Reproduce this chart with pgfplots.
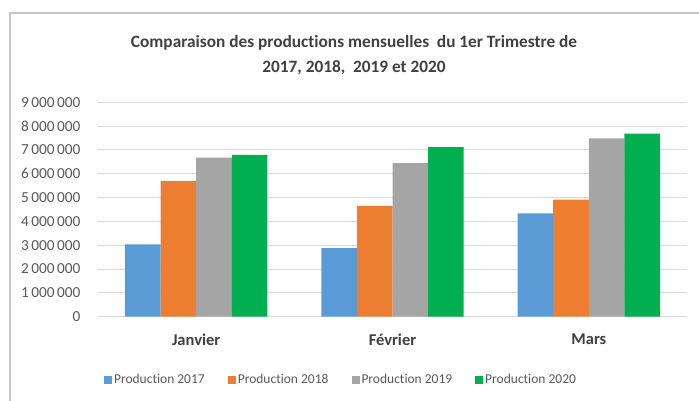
\documentclass[border=0pt]{standalone}
\usepackage{fontspec}
\setmainfont{Carlito}[Ligatures=NoCommon]
\usepackage{pgfplots}
\pgfplotsset{compat=1.18}

\definecolor{c2017}{HTML}{5B9BD5}
\definecolor{c2018}{HTML}{ED7D31}
\definecolor{c2019}{HTML}{A5A5A5}
\definecolor{c2020}{HTML}{00B050}
\definecolor{gridc}{HTML}{D9D9D9}
\definecolor{txt}{HTML}{595959}
\definecolor{ttl}{HTML}{404040}

\begin{document}
\begin{tikzpicture}[x=1pt,y=1pt]
\useasboundingbox (0,0) rectangle (699,401);
% cadre du graphique (coupé à droite et en bas)
\draw[color=gridc!80!gray, line width=1.6pt] (10,0) -- (10,388) -- (699,388);

\node[font=\bfseries\fontsize{17.3}{25}\selectfont, text=ttl, align=center]
  at (354,345.5) {Comparaison des productions mensuelles\ \ du 1er Trimestre de\\2017, 2018,\ \ 2019 et 2020};

\begin{axis}[
    at={(98pt,84.3pt)}, anchor=south west,
    scale only axis,
    width=589pt, height=214.4pt,
    ybar=0pt,
    bar width=35.6pt,
    xmin=-0.5, xmax=2.5,
    ymin=0, ymax=9000000,
    xtick=data,
    xticklabels={Janvier, Février, Mars},
    ytick={0,1000000,...,9000000},
    scaled y ticks=false,
    /pgf/number format/fixed,
    /pgf/number format/1000 sep={\,},
    /pgf/number format/assume math mode=true,
    yticklabel style={font=\fontsize{15.3}{17}\selectfont, text=txt, xshift=-14pt},
    xticklabel style={font=\bfseries\fontsize{16.5}{18}\selectfont, text=ttl, yshift=-14pt},
    major tick length=0pt,
    axis line style={draw=none},
    ymajorgrids,
    grid style={gridc, line width=0.9pt},
    legend style={
      at={(0.4126,-0.295)}, anchor=center,
      draw=none, fill=none,
      legend columns=4,
      font=\fontsize{13.5}{15}\selectfont, text=txt,
      /tikz/every even column/.append style={column sep=21pt},
    },
    legend image code/.code={\fill[#1] (0pt,-4pt) rectangle (8pt,4pt);},
  ]
  \addplot[fill=c2017, draw=none] coordinates {(0,3040000) (1,2880000) (2,4340000)};
  \addplot[fill=c2018, draw=none] coordinates {(0,5700000) (1,4650000) (2,4910000)};
  \addplot[fill=c2019, draw=none] coordinates {(0,6680000) (1,6450000) (2,7490000)};
  \addplot[fill=c2020, draw=none] coordinates {(0,6790000) (1,7120000) (2,7680000)};
  \legend{Production 2017, Production 2018, Production 2019, Production 2020}
\end{axis}
\end{tikzpicture}
\end{document}
